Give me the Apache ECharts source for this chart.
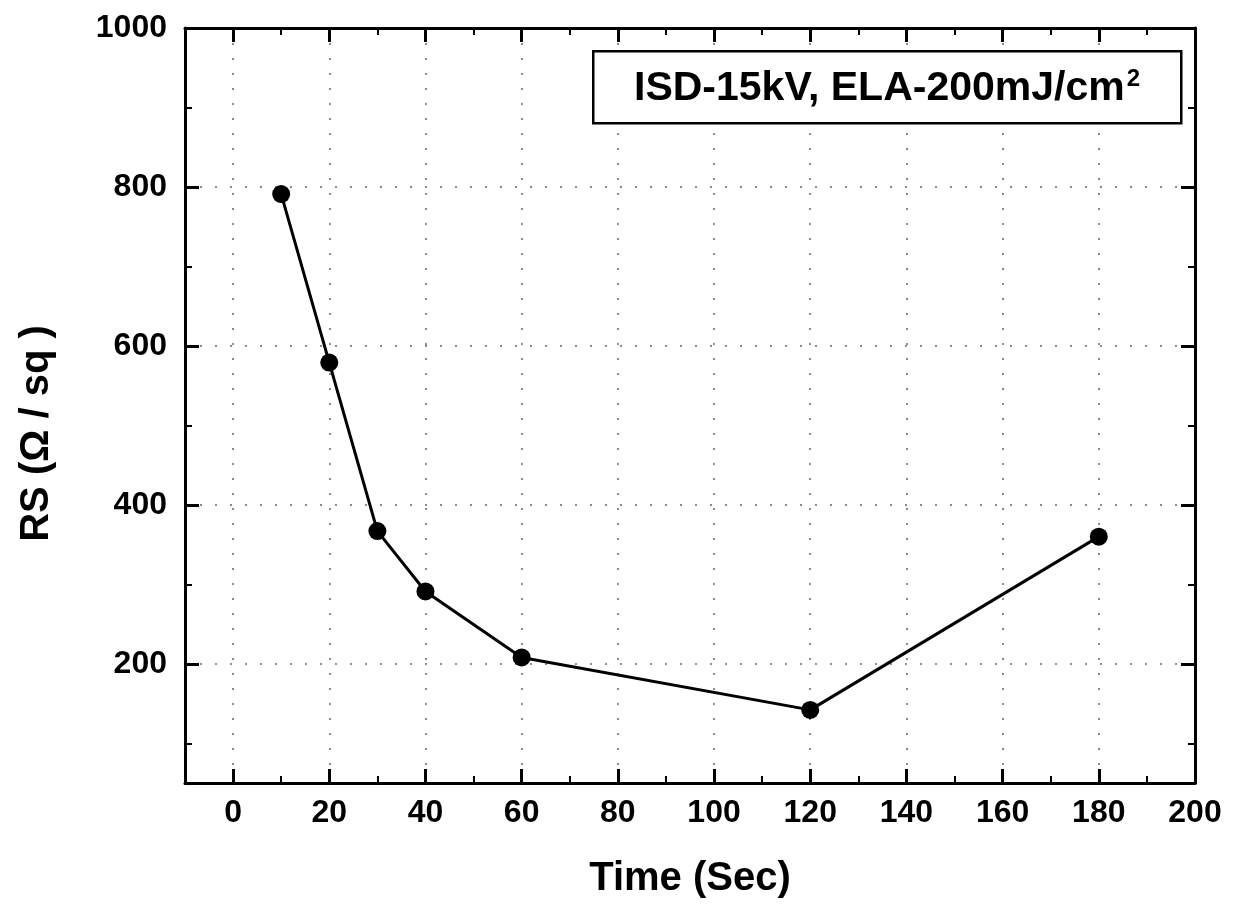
<!DOCTYPE html>
<html><head><meta charset="utf-8">
<script src="https://cdn.jsdelivr.net/npm/echarts@6/dist/echarts.min.js"></script>
<style>html,body{margin:0;padding:0;background:#fff}#c{width:1245px;height:912px}</style>
</head><body><div id="c"></div>
<script>
// ---- data ----
const timeSec = [10, 20, 30, 40, 60, 120, 180];
const rsValues = [791, 579, 367, 291, 208, 142, 360];
const xMajorTicks = [0, 20, 40, 60, 80, 100, 120, 140, 160, 180, 200];
const xMinorTicks = [10, 30, 50, 70, 90, 110, 130, 150, 170, 190];
const yMajorTicks = [200, 400, 600, 800, 1000];
const yMinorTicks = [100, 300, 500, 700, 900];
const xTitle = 'Time (Sec)';
const yTitle = 'RS (Ω / sq )';
const boxLabel = 'ISD-15kV, ELA-200mJ/cm';
const boxSup = '2';

const FONT = '"Liberation Sans", Arial, Helvetica, sans-serif';
const frame = {show: true, onZero: false, lineStyle: {color: '#000', width: 3}};
const grid = {type: [2, 13], color: '#666', width: 1.5};
function plain(v) { return String(v); }
function majorAxis(extra) {
  return Object.assign({
    type: 'value',
    axisLine: frame,
    axisTick: {show: true, inside: true, length: 14, lineStyle: {color: '#000', width: 3}},
    axisLabel: {show: false},
    splitLine: {show: false}
  }, extra);
}
function minorAxis(extra, vals) {
  return Object.assign({
    type: 'value',
    axisLine: {show: false, onZero: false},
    axisTick: {show: true, inside: true, length: 7, customValues: vals, lineStyle: {color: '#000', width: 2}},
    axisLabel: {show: false},
    splitLine: {show: false}
  }, extra);
}

const chart = echarts.init(document.getElementById('c'), null, {renderer: 'canvas'});
chart.setOption({
  backgroundColor: '#fff',
  animation: false,
  grid: {left: 185, right: 50, top: 28, bottom: 129, containLabel: false, outerBoundsMode: 'none'},
  xAxis: [
    majorAxis({
      position: 'bottom', min: -10, max: 200,
      axisTick: {show: true, inside: true, length: 14, customValues: xMajorTicks, lineStyle: {color: '#000', width: 3}},
      axisLabel: {show: true, customValues: xMajorTicks, formatter: plain, margin: 14, color: '#000', fontSize: 32, fontWeight: 'bold', fontFamily: FONT},
      splitLine: {show: true, lineStyle: grid},
      name: xTitle, nameLocation: 'middle', nameGap: 76,
      nameTextStyle: {color: '#000', fontSize: 40, fontWeight: 'bold', fontFamily: FONT}
    }),
    majorAxis({
      position: 'top', min: -10, max: 200,
      axisTick: {show: true, inside: true, length: 14, customValues: xMajorTicks, lineStyle: {color: '#000', width: 3}}
    }),
    minorAxis({position: 'bottom', min: -10, max: 200}, xMinorTicks),
    minorAxis({position: 'top', min: -10, max: 200}, xMinorTicks)
  ],
  yAxis: [
    majorAxis({
      position: 'left', min: 50, max: 1000,
      axisTick: {show: true, inside: true, length: 14, customValues: yMajorTicks, lineStyle: {color: '#000', width: 3}},
      axisLabel: {show: true, customValues: yMajorTicks, formatter: plain, margin: 18, color: '#000', fontSize: 32, fontWeight: 'bold', fontFamily: FONT},
      splitLine: {show: true, lineStyle: grid},
      name: yTitle, nameLocation: 'middle', nameGap: 128,
      nameTextStyle: {color: '#000', fontSize: 40, fontWeight: 'bold', fontFamily: FONT, padding: [0, 56, 0, 0]}
    }),
    majorAxis({
      position: 'right', min: 50, max: 1000,
      axisTick: {show: true, inside: true, length: 14, customValues: yMajorTicks, lineStyle: {color: '#000', width: 3}}
    }),
    minorAxis({position: 'left', min: 50, max: 1000}, yMinorTicks),
    minorAxis({position: 'right', min: 50, max: 1000}, yMinorTicks)
  ],
  series: [{
    type: 'line',
    xAxisIndex: 0, yAxisIndex: 0,
    data: timeSec.map((t, i) => [t, rsValues[i]]),
    symbol: 'circle', symbolSize: 18,
    itemStyle: {color: '#000'},
    lineStyle: {color: '#000', width: 3},
    clip: false, z: 5
  }],
  graphic: [
    {type: 'rect', left: 592, top: 50, z: 10,
     shape: {width: 588, height: 72},
     style: {fill: '#fff', stroke: '#000', lineWidth: 2.5}},
    {type: 'text', z: 11,
     style: {
       x: 634, y: 89, verticalAlign: 'middle', align: 'left',
       text: '{a|' + boxLabel + '}{s|' + boxSup + '}',
       rich: {
         a: {fontSize: 41, fontWeight: 'bold', fontFamily: FONT, fill: '#000', lineHeight: 44},
         s: {fontSize: 24, fontWeight: 'bold', fontFamily: FONT, fill: '#000', verticalAlign: 'top', lineHeight: 12, padding: [0, 0, 0, 2]}
       }
     }}
  ]
});
</script>
</body></html>
